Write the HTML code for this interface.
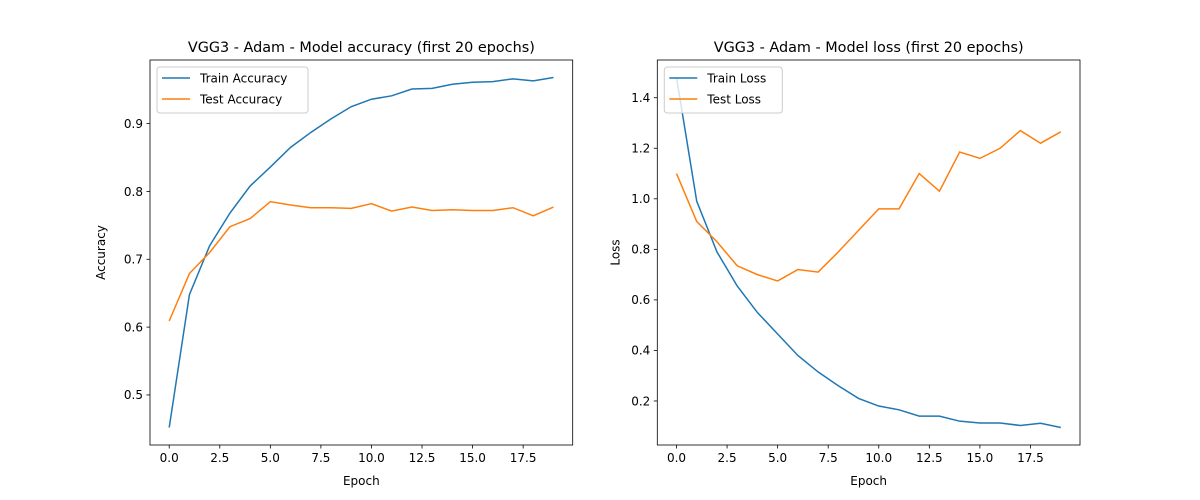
<!DOCTYPE html>
<html><head><meta charset="utf-8"><style>
html,body{margin:0;padding:0;background:#fff;}
svg{display:block;font-family:"DejaVu Sans","Liberation Sans",sans-serif;}
</style></head><body>
<svg id="fig" width="1200" height="500" viewBox="0 0 1200 500"></svg>
<script>
const epochs=[0,1,2,3,4,5,6,7,8,9,10,11,12,13,14,15,16,17,18,19];
const trainAcc=[0.452,0.648,0.72,0.768,0.808,0.836,0.865,0.887,0.907,0.925,0.936,0.941,0.951,0.952,0.958,0.961,0.962,0.966,0.963,0.968];
const testAcc=[0.609,0.679,0.71,0.748,0.76,0.785,0.78,0.776,0.776,0.775,0.782,0.771,0.777,0.772,0.773,0.772,0.772,0.776,0.764,0.777];
const trainLoss=[1.48,0.99,0.79,0.655,0.55,0.465,0.38,0.315,0.26,0.21,0.18,0.165,0.14,0.14,0.12,0.113,0.113,0.103,0.112,0.095];
const testLoss=[1.10,0.91,0.83,0.735,0.70,0.675,0.72,0.71,0.79,0.875,0.96,0.96,1.10,1.03,1.185,1.16,1.20,1.27,1.22,1.265];
const xTicks=[0,2.5,5,7.5,10,12.5,15,17.5];
const accTicks=[0.5,0.6,0.7,0.8,0.9];
const lossTicks=[0.2,0.4,0.6,0.8,1.0,1.2,1.4];
const NS="http://www.w3.org/2000/svg";
const svg=document.getElementById('fig');
function el(tag,attrs,parent){const e=document.createElementNS(NS,tag);for(const k in attrs)e.setAttribute(k,attrs[k]);(parent||svg).appendChild(e);return e;}
function panel(x0,x1,title,ylabel,yTicks,yFmt,s1,s2,n1,n2,key){
  const y0=60,y1=445;
  const g=el('g',{});
  
  
  const all=s1.concat(s2);const mn=Math.min(...all),mx=Math.max(...all),pad=(mx-mn)*0.05;
  const ymin=mn-pad,ymax=mx+pad;
  const xmin=-0.95,xmax=19.95;
  const sx=v=>x0+(v-xmin)/(xmax-xmin)*(x1-x0);
  const sy=v=>y1-(v-ymin)/(ymax-ymin)*(y1-y0);
  xTicks.forEach(t=>{const x=sx(t);el('line',{x1:x,x2:x,y1:y1,y2:y1+3.5,stroke:'#000','stroke-width':0.8},g);
    const tx=el('text',{x:x,y:y1+17,'font-size':12,'text-anchor':'middle'},g);tx.textContent=t.toFixed(1);
    });
  yTicks.forEach(t=>{const y=sy(t);el('line',{x1:x0-3.5,x2:x0,y1:y,y2:y,stroke:'#000','stroke-width':0.8},g);
    const tx=el('text',{x:x0-7,y:y+4.3,'font-size':12,'text-anchor':'end'},g);tx.textContent=yFmt(t);
    });
  const line=(d,c,name)=>{const p=el('polyline',{points:d.map((v,i)=>sx(epochs[i])+','+sy(v)).join(' '),fill:'none',stroke:c,'stroke-width':1.5},g);
    };
  line(s1,'#1f77b4',key+'-train-line');line(s2,'#ff7f0e',key+'-test-line');
  el('rect',{x:x0,y:y0,width:x1-x0,height:y1-y0,fill:'none',stroke:'#000','stroke-width':0.8},g);
  const t=el('text',{x:(x0+x1)/2,y:y0-8,'font-size':14.4,'text-anchor':'middle'},g);t.textContent=title;
  
  const xl=el('text',{x:(x0+x1)/2,y:485,'font-size':12,'text-anchor':'middle'},g);xl.textContent='Epoch';
  
  const yl=el('text',{x:0,y:0,'font-size':12,'text-anchor':'middle',transform:`translate(${x0-(key==='acc'?45:38)},${(y0+y1)/2}) rotate(-90)`},g);yl.textContent=ylabel;
  
  const lg=el('g',{},g);
  const lw=key==='acc'?151:118;
  el('rect',{x:x0+7,y:y0+7,width:lw,height:46,rx:3,fill:'#fff','fill-opacity':0.8,stroke:'#ccc'},lg);
  [[n1,'#1f77b4'],[n2,'#ff7f0e']].forEach((e,i)=>{const y=y0+18+i*21;
    el('line',{x1:x0+12,x2:x0+40,y1:y,y2:y,stroke:e[1],'stroke-width':1.5},lg);
    const tx=el('text',{x:x0+50,y:y+4.5,'font-size':12},lg);tx.textContent=e[0];
    });
}
panel(150,572.7,'VGG3 - Adam - Model accuracy (first 20 epochs)','Accuracy',accTicks,v=>v.toFixed(1),trainAcc,testAcc,'Train Accuracy','Test Accuracy','acc');
panel(657.3,1080,'VGG3 - Adam - Model loss (first 20 epochs)','Loss',lossTicks,v=>v.toFixed(1),trainLoss,testLoss,'Train Loss','Test Loss','loss');
</script>
</body></html>
